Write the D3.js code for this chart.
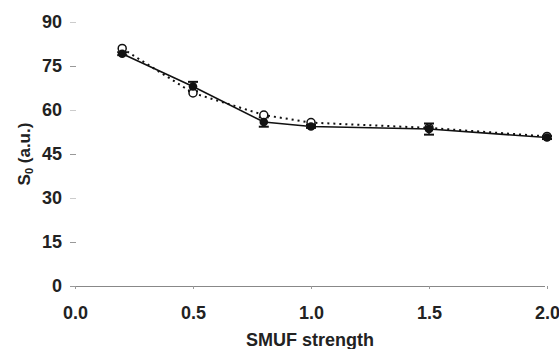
<!DOCTYPE html>
<html><head><meta charset="utf-8">
<script src="https://cdn.jsdelivr.net/npm/d3@7"></script>
<style>body{margin:0;background:#fff}svg{display:block}text{font-family:"Liberation Sans",Arial,sans-serif;font-weight:bold;fill:#222}</style>
</head><body>
<svg id="c" width="559" height="349"></svg>
<script>
const xValues = [0.2, 0.5, 0.8, 1.0, 1.5, 2.0];
const filledValues = [79.2, 68.0, 55.9, 54.4, 53.5, 50.6];
const filledErrors = [0.5, 1.6, 1.6, 0.5, 1.9, 0.5];
const openValues = [81.0, 65.8, 58.3, 55.7, 53.9, 51.0];
const xTicks = [0.0, 0.5, 1.0, 1.5, 2.0];
const yTicks = [0, 15, 30, 45, 60, 75, 90];

const svg = d3.select("#c");
const x = d3.scaleLinear().domain([0, 2]).range([75, 547]);
const y = d3.scaleLinear().domain([0, 90]).range([286, 22]);

// x axis
const gx = svg.append("g").attr("transform", "translate(0,286)")
  .call(d3.axisBottom(x).tickValues(xTicks).tickFormat(d3.format(".1f")).tickSize(3).tickSizeOuter(0).tickPadding(17));
gx.select(".domain").attr("stroke", "#888").attr("d", "M70,0.5H545");
gx.selectAll(".tick line").attr("stroke", "#999");
gx.selectAll("text").style("font-size", "18px").attr("fill", "#222");

// y axis
const gy = svg.append("g").attr("transform", "translate(76,0)")
  .call(d3.axisLeft(y).tickValues(yTicks).tickSize(6).tickPadding(8));
gy.select(".domain").remove();
gy.selectAll(".tick line").attr("stroke", d => (d % 30 === 0 && d > 0) ? "#ccc" : "#999");
gy.selectAll("text").style("font-size", "18px").attr("fill", "#222");

// axis titles
svg.append("text").attr("x", 310).attr("y", 346).attr("text-anchor", "middle")
  .style("font-size", "18px").text("SMUF strength");
const yl = svg.append("text").attr("transform", "translate(30,154) rotate(-90)")
  .attr("text-anchor", "middle").style("font-size", "17px");
yl.append("tspan").text("S");
yl.append("tspan").attr("dy", 3).style("font-size", "11px").text("0");
yl.append("tspan").attr("dy", -3).text(" (a.u.)");

const open = xValues.map((d, i) => [d, openValues[i]]);
const filled = xValues.map((d, i) => [d, filledValues[i], filledErrors[i]]);
const line = d3.line().x(d => x(d[0])).y(d => y(d[1]));

svg.append("path").datum(open).attr("d", line).attr("fill", "none")
  .attr("stroke", "#111").attr("stroke-width", 2).attr("stroke-dasharray", "2,4");
svg.append("path").datum(filled).attr("d", line).attr("fill", "none")
  .attr("stroke", "#111").attr("stroke-width", 1.6);

// error bars
const eb = svg.append("g").attr("stroke", "#111").attr("stroke-width", 1.5);
filled.forEach(d => {
  eb.append("line").attr("x1", x(d[0])).attr("x2", x(d[0])).attr("y1", y(d[1] - d[2])).attr("y2", y(d[1] + d[2]));
  [d[1] - d[2], d[1] + d[2]].forEach(v => eb.append("line")
    .attr("x1", x(d[0]) - 5).attr("x2", x(d[0]) + 5).attr("y1", y(v)).attr("y2", y(v)).attr("stroke-width", 2));
});

svg.append("g").selectAll("circle").data(open).join("circle")
  .attr("cx", d => x(d[0])).attr("cy", d => y(d[1])).attr("r", 4)
  .attr("fill", "#fff").attr("stroke", "#111").attr("stroke-width", 1.5);
svg.append("g").selectAll("circle").data(filled).join("circle")
  .attr("cx", d => x(d[0])).attr("cy", d => y(d[1])).attr("r", 4.3)
  .attr("fill", "#111");
</script>
</body></html>
